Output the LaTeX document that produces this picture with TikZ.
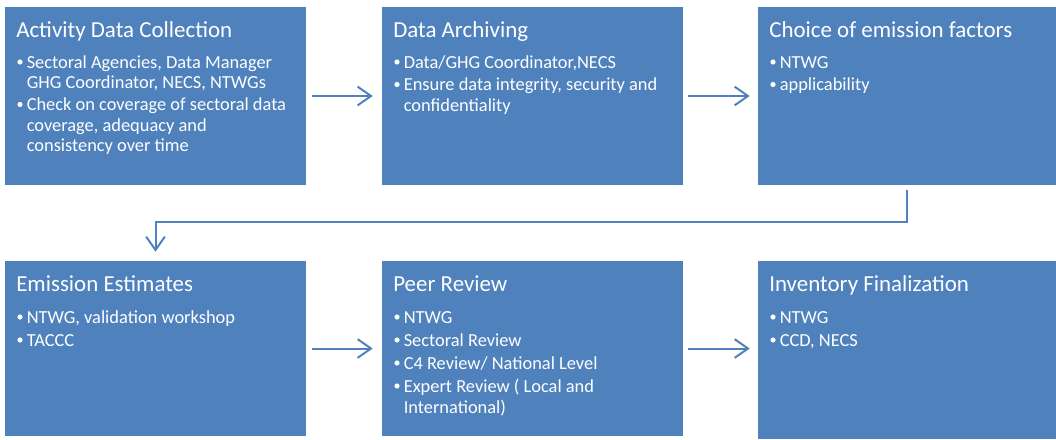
\documentclass[tikz,border=0pt]{standalone}
\usepackage{fontspec}
\setmainfont{Carlito}
\usetikzlibrary{arrows.meta,fit}
\definecolor{boxblue}{HTML}{4F81BD}
\newcommand\bitem[4]{%
  \node[dotsty] (#1d) at (#2+3,#3-6) {};
  \node[txt] (#1) at (#2+9.5,#3) {#4};}
\newcommand\contline[4]{\node[txt] (#1) at (#2+9.5,#3) {#4};}
\begin{document}
\begin{tikzpicture}[x=0.75pt,y=-0.75pt,
  box/.style={fill=boxblue,draw=none,inner sep=0pt},
  dotsty/.style={circle,fill=white,draw=none,inner sep=0pt,minimum size=3.9pt},
  ttl/.style={anchor=base west,inner sep=0pt,text=white,font=\fontsize{17.2}{20}\selectfont},
  txt/.style={anchor=base west,inner sep=0pt,text=white,font=\fontsize{13.8}{16}\selectfont},
  arr/.style={draw=boxblue,line width=1.5pt,-{Straight Barb[length=10pt,width=14pt]}}]
\useasboundingbox (0,0) rectangle (1056,439);
% boxes
\node[box,fit={(5,7) (306,185)}] (b1) {};
\node[box,fit={(382,7) (683,185)}] (b2) {};
\node[box,fit={(758,7) (1056,185)}] (b3) {};
\node[box,fit={(5,261) (306,436)}] (b4) {};
\node[box,fit={(382,261) (683,436)}] (b5) {};
\node[box,fit={(758,261) (1056,439)}] (b6) {};
% box 1
\node[ttl] (t1) at (16,37) {Activity Data Collection};
\bitem{a1}{17}{68}{Sectoral Agencies, Data Manager}
\contline{a1c}{17}{88.5}{GHG Coordinator, NECS, NTWGs}
\bitem{a2}{17}{110.5}{Check on coverage of sectoral data}
\contline{a2c}{17}{131}{coverage, adequacy and}
\contline{a2e}{17}{151.5}{consistency over time}
% box 2
\node[ttl] (t2) at (393,37) {Data Archiving};
\bitem{c1}{394}{68}{Data/GHG Coordinator,NECS}
\bitem{c2}{394}{90.5}{Ensure data integrity, security and}
\contline{c2c}{394}{111}{confidentiality}
% box 3
\node[ttl] (t3) at (769,37) {Choice of emission factors};
\bitem{e1}{770}{68}{NTWG}
\bitem{e2}{770}{90.5}{applicability}
% box 4
\node[ttl] (t4) at (16,291) {Emission Estimates};
\bitem{f1}{17}{323}{NTWG, validation workshop}
\bitem{f2}{17}{346}{TACCC}
% box 5
\node[ttl] (t5) at (393,291) {Peer Review};
\bitem{p1}{394}{323}{NTWG}
\bitem{p2}{394}{346}{Sectoral Review}
\bitem{p3}{394}{369}{C4 Review/ National Level}
\bitem{p4}{394}{392}{Expert Review ( Local and}
\contline{p4c}{394}{413}{International)}
% box 6
\node[ttl] (t6) at (769,291) {Inventory Finalization};
\bitem{i1}{770}{323}{NTWG}
\bitem{i2}{770}{346}{CCD, NECS}
% connectors
\coordinate (mid) at (0,222);
\draw[arr] ([xshift=4.5pt]b1.east) -- ([xshift=-6.75pt]b2.west);
\draw[arr] ([xshift=3.75pt]b2.east) -- ([xshift=-6pt]b3.west);
\draw[arr] ([yshift=-3.75pt]b3.south) -- (b3.south |- mid) -| ([yshift=6.75pt]b4.north);
\draw[arr] ([xshift=4.5pt]b4.east) -- ([xshift=-6.75pt]b5.west);
\draw[arr] ([xshift=3.75pt]b5.east) -- ([xshift=-6pt]b6.west |- b5.east);
\end{tikzpicture}
\end{document}
